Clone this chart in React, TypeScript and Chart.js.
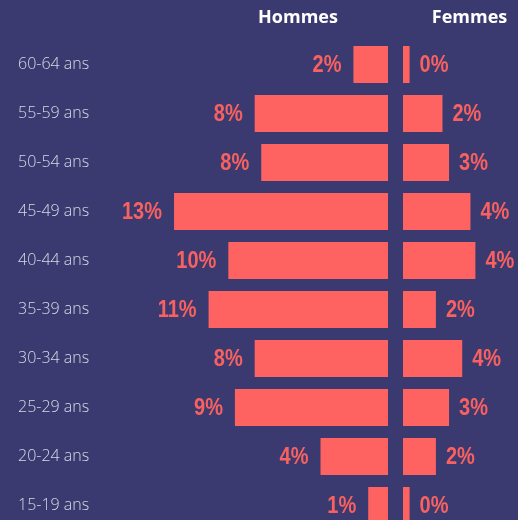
import React, { useEffect, useRef } from 'react';
import { Chart, registerables } from 'chart.js';

Chart.register(...registerables);

const AGE_GROUPS = ['60-64 ans', '55-59 ans', '50-54 ans', '45-49 ans', '40-44 ans', '35-39 ans', '30-34 ans', '25-29 ans', '20-24 ans', '15-19 ans'];
const HOMMES = [2.1, 8.1, 7.7, 13.0, 9.7, 10.9, 8.1, 9.3, 4.1, 1.2];
const FEMMES = [0.4, 2.4, 2.8, 4.1, 4.4, 2.0, 3.6, 2.8, 2.0, 0.4];
const SERIES_NAMES = ['Hommes', 'Femmes'];

const BG = '#3b3a70';
const BAR = '#ff6361';
const LABEL = '#f8615f';
const AXIS_TEXT = '#d9d8e6';
const NARROW = 0.87;

const valueLabels = {
  id: 'valueLabels',
  afterDatasetsDraw(chart: any) {
    const ctx = chart.ctx;
    ctx.save();
    ctx.font = 'bold 23px "Liberation Sans", Arial, sans-serif';
    ctx.fillStyle = LABEL;
    ctx.textBaseline = 'middle';
    chart.data.datasets.forEach((ds: any, di: number) => {
      const meta = chart.getDatasetMeta(di);
      meta.data.forEach((el: any, i: number) => {
        const txt = Math.round(ds.data[i]) + '%';
        const x = di === 0 ? el.x - 12 : el.x + 10;
        ctx.save();
        ctx.translate(x, el.y + 1);
        ctx.scale(NARROW, 1);
        ctx.textAlign = di === 0 ? 'right' : 'left';
        ctx.fillText(txt, 0, 0);
        ctx.restore();
      });
    });
    ctx.font = 'bold 18px "Open Sans", sans-serif';
    ctx.fillStyle = '#ffffff';
    ctx.textAlign = 'center';
    ctx.fillText(SERIES_NAMES[0], 298, 18);
    ctx.fillText(SERIES_NAMES[1], 469.5, 18);
    ctx.restore();
  },
};

export default function App() {
  const ref = useRef<HTMLCanvasElement | null>(null);
  useEffect(() => {
    if (!ref.current) return;
    const hidden = {
      display: true,
      ticks: { display: false },
      grid: { display: false, drawTicks: false },
      border: { display: false },
    };
    const chart = new Chart(ref.current, {
      type: 'bar',
      data: {
        labels: AGE_GROUPS,
        datasets: [
          {
            label: SERIES_NAMES[0],
            data: HOMMES,
            xAxisID: 'xH',
            yAxisID: 'y',
            backgroundColor: BAR,
            borderWidth: 0,
            grouped: false,
            categoryPercentage: 1,
            barPercentage: 0.76,
          } as any,
          {
            label: SERIES_NAMES[1],
            data: FEMMES,
            xAxisID: 'xF',
            yAxisID: 'y',
            backgroundColor: BAR,
            borderWidth: 0,
            grouped: false,
            categoryPercentage: 1,
            barPercentage: 0.76,
          } as any,
        ],
      },
      options: {
        indexAxis: 'y',
        responsive: true,
        maintainAspectRatio: false,
        animation: false,
        layout: { padding: { top: 40, bottom: 10, left: 18, right: 0 } },
        plugins: { legend: { display: false }, tooltip: { enabled: false } },
        scales: {
          y: {
            type: 'category',
            position: 'left',
            grid: { display: false, drawTicks: false },
            border: { display: false },
            ticks: {
              color: AXIS_TEXT,
              crossAlign: 'far',
              padding: 0,
              font: { family: '"Open Sans", sans-serif', size: 16, weight: 300 },
            },
            afterFit: (s: any) => {
              s.width = 132;
            },
          },
          xH: {
            ...hidden,
            type: 'linear',
            position: 'bottom',
            stack: 'x',
            stackWeight: 245.5,
            reverse: true,
            min: -0.456,
            max: 14.46,
          },
          xF: {
            ...hidden,
            type: 'linear',
            position: 'bottom',
            stack: 'x',
            stackWeight: 122.5,
            min: -0.456,
            max: 6.99,
          },
        } as any,
      },
      plugins: [valueLabels],
    });
    return () => chart.destroy();
  }, []);

  return (
    <div style={{ position: 'fixed', left: 0, top: 0, width: 518, height: 520, overflow: 'hidden', background: BG }}>
      <div style={{ position: 'relative', width: 518, height: 540 }}>
        <canvas ref={ref} />
      </div>
    </div>
  );
}
